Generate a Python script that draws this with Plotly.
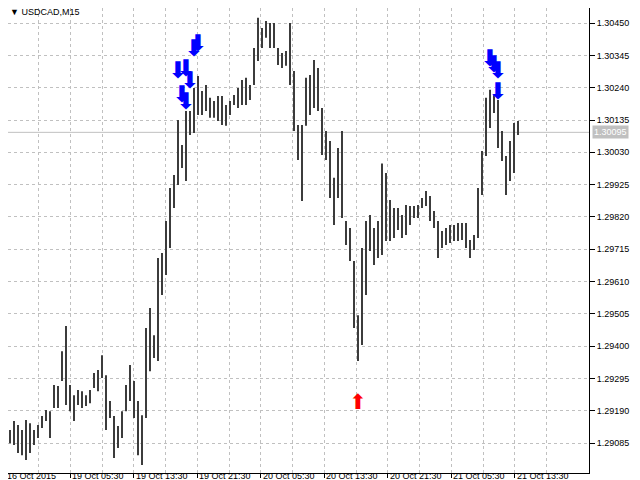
import plotly.graph_objects as go

# ---- data (USDCAD M15) ----
bar_high = [1.29128, 1.29157, 1.29144, 1.29128, 1.29160, 1.29150, 1.29128, 1.29144, 1.29173, 1.29193,
            1.29189, 1.29274, 1.29271, 1.29384, 1.29466, 1.29274, 1.29241, 1.29258, 1.29254, 1.29241,
            1.29258, 1.29313, 1.29323, 1.29371, 1.29306, 1.29222, 1.29173, 1.29141, 1.29189, 1.29274,
            1.29339, 1.29287, 1.29222, 1.29176, 1.29459, 1.29524, 1.29436, 1.29687, 1.29703, 1.29807,
            1.29914, 1.29956, 1.30135, 1.30054, 1.30164, 1.30164, 1.30239, 1.30278, 1.30229, 1.30249,
            1.30207, 1.30197, 1.30213, 1.30213, 1.30184, 1.30197, 1.30216, 1.30239, 1.30265, 1.30272,
            1.30249, 1.30369, 1.30467, 1.30434, 1.30457, 1.30450, 1.30450, 1.30369, 1.30353, 1.30359,
            1.30450, 1.30294, 1.30119, 1.30119, 1.30272, 1.30281, 1.30330, 1.30304, 1.30174, 1.30099,
            1.30067, 1.29947, 1.30044, 1.30099, 1.29807, 1.29784, 1.29677, 1.29501, 1.29719, 1.29807,
            1.29826, 1.29784, 1.29807, 1.29994, 1.29963, 1.29875, 1.29849, 1.29849, 1.29826, 1.29859,
            1.29856, 1.29856, 1.29859, 1.29882, 1.29904, 1.29888, 1.29839, 1.29807, 1.29774, 1.29784,
            1.29794, 1.29794, 1.29800, 1.29800, 1.29800, 1.29745, 1.29761, 1.29914, 1.30034, 1.30207,
            1.30233, 1.30216, 1.30200, 1.30099, 1.30018, 1.30067, 1.30125, 1.30132]
bar_low = [1.29085, 1.29079, 1.29053, 1.29046, 1.29030, 1.29053, 1.29079, 1.29102, 1.29134, 1.29157,
           1.29102, 1.29199, 1.29199, 1.29287, 1.29209, 1.29189, 1.29157, 1.29209, 1.29199, 1.29206,
           1.29215, 1.29264, 1.29254, 1.29297, 1.29128, 1.29167, 1.29037, 1.29069, 1.29102, 1.29189,
           1.29222, 1.29167, 1.29046, 1.29014, 1.29167, 1.29319, 1.29362, 1.29352, 1.29566, 1.29631,
           1.29719, 1.29849, 1.29924, 1.29979, 1.29937, 1.30086, 1.30093, 1.30151, 1.30151, 1.30164,
           1.30142, 1.30142, 1.30132, 1.30119, 1.30116, 1.30151, 1.30184, 1.30174, 1.30184, 1.30184,
           1.30200, 1.30249, 1.30327, 1.30369, 1.30402, 1.30369, 1.30369, 1.30314, 1.30304, 1.30311,
           1.30249, 1.30099, 1.30005, 1.29872, 1.30116, 1.30151, 1.30174, 1.30164, 1.30021, 1.30005,
           1.29882, 1.29794, 1.29882, 1.29817, 1.29729, 1.29677, 1.29459, 1.29352, 1.29404, 1.29566,
           1.29709, 1.29664, 1.29687, 1.29696, 1.29742, 1.29742, 1.29752, 1.29778, 1.29752, 1.29761,
           1.29794, 1.29817, 1.29817, 1.29849, 1.29856, 1.29807, 1.29784, 1.29687, 1.29719, 1.29729,
           1.29735, 1.29742, 1.29742, 1.29745, 1.29719, 1.29687, 1.29713, 1.29752, 1.29891, 1.30018,
           1.30109, 1.30158, 1.30044, 1.30002, 1.29891, 1.29937, 1.29963, 1.30086]
bar_index = list(range(len(bar_high)))

sell_idx = [42, 44, 45, 43, 44, 46, 47, 120, 121, 122, 122]
sell_price = [1.30291, 1.30298, 1.30259, 1.30213, 1.30190, 1.30363, 1.30379, 1.30330, 1.30310, 1.30291, 1.30223]
buy_idx = [87]
buy_price = [1.29212]

bid_price = 1.30095
y_ticks = [1.30450, 1.30345, 1.30240, 1.30135, 1.30030, 1.29925, 1.29820, 1.29715,
           1.29610, 1.29505, 1.29400, 1.29295, 1.29190, 1.29085]
x_tick_pos = [15.06, 30.94, 46.81, 62.69, 78.56, 94.44, 110.31, 126.19]
x_tick_labels = ["19 Oct 05:30", "19 Oct 13:30", "19 Oct 21:30", "20 Oct 05:30",
                 "20 Oct 13:30", "20 Oct 21:30", "21 Oct 05:30", "21 Oct 13:30"]
x_grid_mid = [7.125, 23.0, 38.875, 54.75, 70.625, 86.5, 102.375, 118.25, 134.125]
first_label = "16 Oct 2015"
chart_title = "▼ USDCAD,M15"

FONT = "Liberation Sans, Arial, DejaVu Sans"
GRID = "#c0c0c0"

fig = go.Figure()
fig.add_trace(go.Bar(
    x=bar_index, base=bar_low, y=[h - l for h, l in zip(bar_high, bar_low)],
    width=0.5, marker=dict(color="#3c3c3c", line=dict(width=0)), hoverinfo="skip"))
fig.add_trace(go.Scatter(
    x=sell_idx, y=sell_price, mode="text", text=["⬇"] * len(sell_idx),
    textfont=dict(color="#0000ff", size=23, family="DejaVu Sans"), hoverinfo="skip"))
fig.add_trace(go.Scatter(
    x=buy_idx, y=buy_price, mode="text", text=["⬆"] * len(buy_idx),
    textfont=dict(color="#ff0000", size=21, family="DejaVu Sans"), hoverinfo="skip"))

fig.add_hline(y=bid_price, line=dict(color="#c0c0c0", width=1), layer="below")

annotations = []
for pos, lab in zip(x_tick_pos, x_tick_labels):
    annotations.append(dict(x=pos, xref="x", y=0, yref="paper", text=lab, showarrow=False,
                            xanchor="left", yanchor="top", xshift=1, yshift=3, borderpad=0,
                            font=dict(family=FONT, size=9, color="black")))
annotations.append(dict(x=-0.5, xref="x", y=0, yref="paper", text=first_label, showarrow=False,
                        xanchor="left", yanchor="top", xshift=-2, yshift=3, borderpad=0,
                        font=dict(family=FONT, size=9, color="black")))
annotations.append(dict(x=0, xref="paper", y=1, yref="paper", text=chart_title, showarrow=False,
                        xanchor="left", yanchor="top", xshift=1, yshift=2, borderpad=0,
                        font=dict(family=FONT, size=9, color="black")))
annotations.append(dict(x=1, xref="paper", y=bid_price, yref="y", text=f"{bid_price:.5f}",
                        showarrow=False, xanchor="left", yanchor="middle", xshift=3,
                        bgcolor="#c0c0c0", borderpad=1,
                        font=dict(family=FONT, size=9, color="white")))

fig.update_layout(
    width=640, height=480, margin=dict(l=0, r=59, t=0, b=15),
    paper_bgcolor="white", plot_bgcolor="white", showlegend=False,
    annotations=annotations,
    shapes=[dict(type="rect", xref="paper", yref="paper", x0=634 / 581, x1=1.12, y0=-0.1, y1=1.1,
                 fillcolor="#d3e3f4", line=dict(width=0)),
            dict(type="line", xref="paper", yref="paper", x0=634 / 581, x1=634 / 581, y0=-0.1, y1=1.1,
                 line=dict(color="#a7c0dc", width=1))],
)
fig.update_xaxes(
    range=[-0.5, 144.75], tickvals=x_tick_pos, ticktext=[""] * len(x_tick_pos),
    ticks="outside", ticklen=4, tickcolor="black", showline=True, linecolor="black", linewidth=1,
    showgrid=True, gridcolor=GRID, griddash="3px,3px", gridwidth=1, zeroline=False,
    minor=dict(tickvals=x_grid_mid, showgrid=True, gridcolor=GRID, griddash="3px,3px", ticks=""),
)
fig.update_yaxes(
    range=[1.28988, 1.30499], side="right", tickvals=y_ticks,
    ticktext=[f"{v:.5f}" for v in y_ticks], ticks="outside", ticklen=5, tickcolor="black",
    tickfont=dict(family=FONT, size=9, color="black"),
    showline=True, linecolor="black", linewidth=1,
    showgrid=True, gridcolor=GRID, griddash="3px,3px", gridwidth=1, zeroline=False,
)
fig.write_html("out.html")
